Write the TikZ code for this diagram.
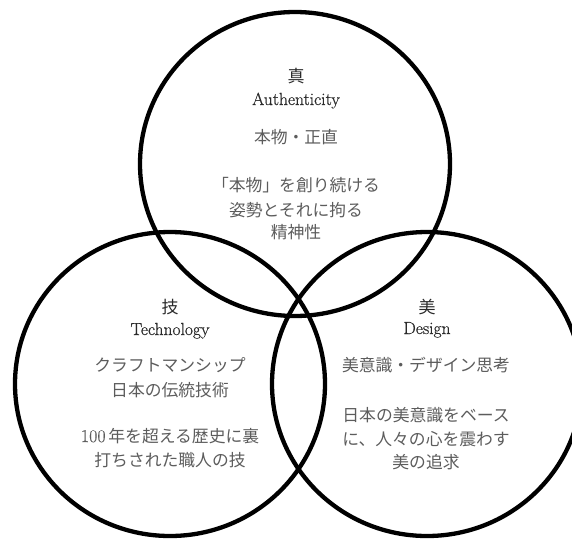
\documentclass[tikz,border=0pt]{standalone}
\usepackage{fontspec}
\newfontfamily\jp{Noto Sans CJK JP}
\newfontfamily\latn{Latin Modern Roman}[FakeBold=0.6]
\definecolor{titlecol}{HTML}{2A2A2A}
\definecolor{bodycol}{HTML}{5C5C5C}
\tikzset{
  ring/.style={draw=black, line width=4.3pt},
  ttl/.style={anchor=base, text=titlecol, inner sep=0pt, font=\jp\fontsize{17}{20}\selectfont},
  lat/.style={anchor=base, text=titlecol, inner sep=0pt, font=\latn\fontsize{17.5}{20}\selectfont},
  body/.style={anchor=base, text=bodycol, inner sep=0pt, font=\jp\fontsize{16.8}{20}\selectfont},
}
\begin{document}
\begin{tikzpicture}[x=1pt,y=-1pt]
\useasboundingbox (0,0) rectangle (572,538);
\clip (0,0) rectangle (572,538);
% circles
\draw[ring] (295,164) ellipse [x radius=155pt, y radius=152pt];
\draw[ring] (170,384) ellipse [x radius=155pt, y radius=152pt];
\draw[ring] (427,384) ellipse [x radius=155pt, y radius=152pt];
% top circle text
\node[ttl]  (a1) at (296,82)  {真};
\node[lat]  (a2) at (296,105) {Authenticity};
\node[body] (a3) at (296,143) {本物・正直};
\node[body] (a4) at (296,191) {「本物」を創り続ける};
\node[body] (a5) at (296,216) {姿勢とそれに拘る};
\node[body] (a6) at (296,238) {精神性};
% left circle text
\node[ttl]  (t1) at (170,313) {技};
\node[lat]  (t2) at (170,335) {Technology};
\node[body] (t3) at (170,371) {クラフトマンシップ};
\node[body] (t4) at (170,396) {日本の伝統技術};
\node[body] (t5) at (170,442) {{\latn\fontsize{18}{20}\selectfont 100}\,年を超える歴史に裏};
\node[body] (t6) at (170,466) {打ちされた職人の技};
% right circle text
\node[ttl]  (d1) at (427,313) {美};
\node[lat]  (d2) at (427,334) {Design};
\node[body] (d3) at (426,371) {美意識・デザイン思考};
\node[body] (d4) at (426,421) {日本の美意識をベース};
\node[body] (d5) at (426,445) {に、人々の心を震わす};
\node[body] (d6) at (426,468) {美の追求};
\end{tikzpicture}
\end{document}
